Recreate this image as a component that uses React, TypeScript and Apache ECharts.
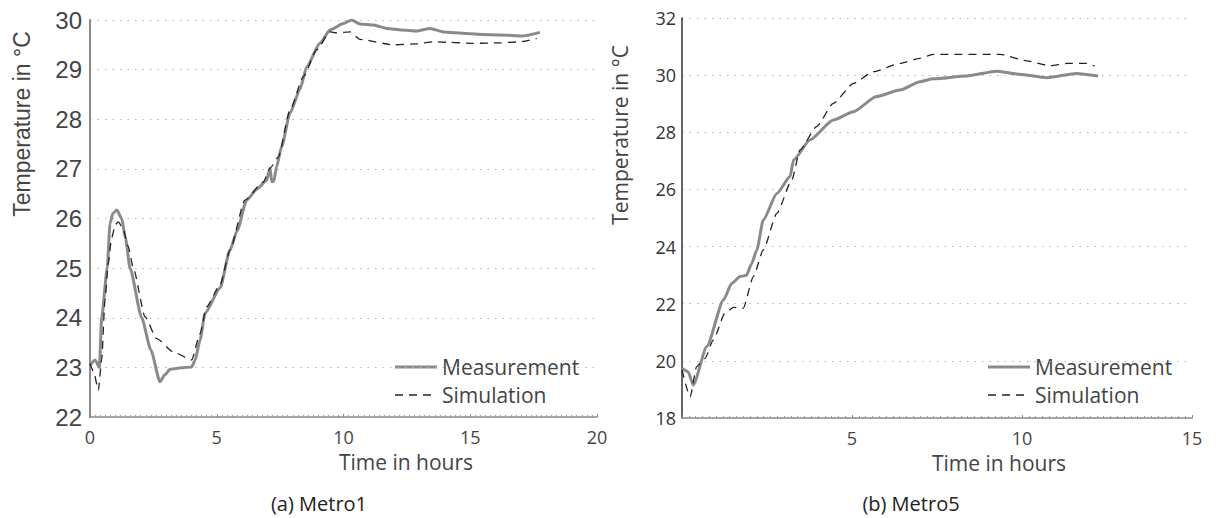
import React, { useEffect, useRef } from "react";
import * as echarts from "echarts";

// ---- Metro1 (left) ----
const m1MeasTime = [0, 0.2, 0.37, 0.46, 0.68, 0.79, 0.9, 1.06, 1.25, 1.4, 1.58, 2.04, 2.4, 2.76, 2.95, 3.16, 3.6, 4.01, 4.15, 4.34, 4.54, 5.13, 5.52, 5.8, 6.18, 6.6, 6.97, 7.1, 7.17, 7.25, 7.36, 7.56, 7.89, 8.28, 8.55, 9.07, 9.47, 9.99, 10.32, 10.65, 11.18, 11.7, 12.3, 12.88, 13.41, 13.94, 14.86, 15.5, 16.17, 17.09, 17.75];
const m1MeasTemp = [23.04, 23.15, 23.0, 24.0, 25.0, 25.9, 26.1, 26.17, 26.0, 25.6, 25.0, 24.0, 23.35, 22.71, 22.85, 22.96, 22.99, 23.01, 23.15, 23.55, 24.09, 24.6, 25.36, 25.75, 26.37, 26.6, 26.77, 27.02, 26.74, 26.75, 27.04, 27.45, 28.12, 28.6, 29.06, 29.53, 29.8, 29.93, 30.0, 29.92, 29.9, 29.83, 29.8, 29.78, 29.83, 29.76, 29.73, 29.71, 29.7, 29.68, 29.75];
const m1SimTime = [0, 0.15, 0.33, 0.46, 0.59, 0.72, 0.85, 1.0, 1.12, 1.3, 1.5, 1.71, 2.17, 2.63, 3.29, 4.01, 4.34, 4.6, 5.13, 5.52, 6.11, 6.84, 7.1, 7.43, 7.89, 8.42, 8.94, 9.47, 9.73, 10.26, 10.65, 11.96, 12.88, 13.54, 14.2, 15.12, 16.17, 16.96, 17.62];
const m1SimTemp = [23.08, 22.9, 22.54, 23.15, 24.35, 25.1, 25.6, 25.88, 25.93, 25.8, 25.45, 25.0, 24.02, 23.58, 23.31, 23.15, 23.68, 24.22, 24.66, 25.36, 26.37, 26.74, 27.01, 27.24, 28.19, 28.86, 29.4, 29.76, 29.74, 29.76, 29.61, 29.5, 29.52, 29.56, 29.55, 29.53, 29.54, 29.56, 29.63];

// ---- Metro5 (right) ----
const m5MeasTime = [0, 0.18, 0.33, 0.73, 1.22, 1.46, 1.71, 1.9, 2.05, 2.2, 2.39, 2.79, 3.18, 3.28, 3.76, 4.45, 5.04, 5.72, 6.41, 7.0, 7.39, 8.37, 9.26, 9.84, 10.73, 11.61, 12.24];
const m5MeasTemp = [19.74, 19.62, 19.15, 20.5, 22.13, 22.71, 22.95, 23.0, 23.41, 23.88, 24.93, 25.86, 26.45, 27.03, 27.73, 28.43, 28.72, 29.25, 29.48, 29.77, 29.87, 29.97, 30.14, 30.04, 29.91, 30.06, 29.97];
const m5SimTime = [0, 0.24, 0.43, 0.68, 0.92, 1.26, 1.51, 1.8, 2.1, 2.39, 2.79, 3.23, 3.47, 3.96, 4.45, 5.04, 5.63, 6.41, 7.0, 7.39, 9.35, 10.14, 10.82, 11.32, 11.9, 12.14];
const m5SimTemp = [19.68, 18.74, 19.8, 20.09, 20.73, 21.66, 21.87, 21.84, 22.95, 23.88, 25.16, 26.33, 27.38, 28.2, 29.01, 29.71, 30.12, 30.41, 30.59, 30.73, 30.73, 30.5, 30.33, 30.41, 30.41, 30.32];

const seriesNames = ["Measurement", "Simulation"];
const yAxisName = "Temperature in °C";
const xAxisName = "Time in hours";
const captions = ["(a) Metro1", "(b) Metro5"];

const pairs = (t: number[], v: number[]) => t.map((x, i) => [x, v[i]]);

const SANS = "'Open Sans', 'Noto Sans', sans-serif";
const ARIAL = "'Liberation Sans', Arial, sans-serif";

function xAxisCfg(gridIndex: number, max: number, hideMin: boolean) {
  return {
    type: "value",
    gridIndex,
    min: 0,
    max,
    interval: 5,
    axisLine: { show: true, lineStyle: { color: "#8a8a8a", width: 1.5 } },
    axisTick: { show: true, inside: true, length: 3, lineStyle: { color: "#8a8a8a" } },
    minorTick: { show: true, splitNumber: 25, length: 2, lineStyle: { color: "#9a9a9a" } },
    splitLine: { show: false },
    axisLabel: {
      margin: 12,
      fontFamily: SANS,
      fontSize: 18,
      lineHeight: 16,
      color: "#444",
      formatter: (v: number) => (hideMin && v === 0 ? "" : String(v)),
    },
  };
}

function legendGraphics(x0: number, y0: number) {
  return [
    { type: "line", shape: { x1: x0, y1: y0, x2: x0 + 42, y2: y0 }, style: { stroke: "#8a8a8a", lineWidth: 3 } },
    { type: "text", x: x0 + 47, y: y0, style: { text: seriesNames[0], font: `21px ${SANS}`, fill: "#444", verticalAlign: "middle", align: "left" } },
    { type: "line", shape: { x1: x0, y1: y0 + 28, x2: x0 + 42, y2: y0 + 28 }, style: { stroke: "#222", lineWidth: 1.3, lineDash: [8, 6] } },
    { type: "text", x: x0 + 47, y: y0 + 28, style: { text: seriesNames[1], font: `21px ${SANS}`, fill: "#444", verticalAlign: "middle", align: "left" } },
  ];
}

export default function App() {
  const ref = useRef<HTMLDivElement>(null);
  useEffect(() => {
    if (!ref.current) return;
    const chart = echarts.init(ref.current, undefined, { renderer: "svg" });
    const gridDots = { show: true, lineStyle: { color: "#b5b5b5", width: 1, type: [1.5, 6] } };
    chart.setOption({
      animation: false,
      backgroundColor: "#fff",
      grid: [
        { left: 90, top: 20, width: 507, height: 397 },
        { left: 682, top: 18, width: 510, height: 400 },
      ],
      xAxis: [xAxisCfg(0, 20, false), xAxisCfg(1, 15, true)],
      yAxis: [
        {
          type: "value",
          gridIndex: 0,
          min: 22,
          max: 30,
          interval: 1,
          axisLine: { show: true, lineStyle: { color: "#8a8a8a", width: 2 } },
          axisTick: { show: false },
          splitLine: gridDots,
          axisLabel: { margin: 8, fontFamily: ARIAL, fontSize: 24, color: "#444" },
        },
        {
          type: "value",
          gridIndex: 1,
          min: 18,
          max: 32,
          interval: 2,
          axisLine: { show: true, lineStyle: { color: "#333", width: 1.5 } },
          axisTick: { show: false },
          splitLine: gridDots,
          axisLabel: { margin: 6, fontFamily: SANS, fontSize: 18, color: "#333" },
        },
      ],
      series: [
        {
          name: seriesNames[0], type: "line", xAxisIndex: 0, yAxisIndex: 0, showSymbol: false,
          smooth: 0.2, smoothMonotone: "x",
          data: pairs(m1MeasTime, m1MeasTemp), lineStyle: { color: "#8a8a8a", width: 3 }, z: 3,
        },
        {
          name: seriesNames[1], type: "line", xAxisIndex: 0, yAxisIndex: 0, showSymbol: false,
          smooth: 0.2, smoothMonotone: "x",
          data: pairs(m1SimTime, m1SimTemp), lineStyle: { color: "#222", width: 1.3, type: [8, 6] }, z: 4,
        },
        {
          name: seriesNames[0], type: "line", xAxisIndex: 1, yAxisIndex: 1, showSymbol: false,
          smooth: 0.2, smoothMonotone: "x",
          data: pairs(m5MeasTime, m5MeasTemp), lineStyle: { color: "#8a8a8a", width: 3 }, z: 3,
        },
        {
          name: seriesNames[1], type: "line", xAxisIndex: 1, yAxisIndex: 1, showSymbol: false,
          smooth: 0.2, smoothMonotone: "x",
          data: pairs(m5SimTime, m5SimTemp), lineStyle: { color: "#222", width: 1.3, type: [8, 6] }, z: 4,
        },
      ],
      graphic: [
        { type: "text", x: 22, y: 124, rotation: Math.PI / 2, style: { text: yAxisName, font: `23px ${ARIAL}`, fill: "#444", align: "center", verticalAlign: "middle" } },
        { type: "text", x: 620, y: 135, rotation: Math.PI / 2, style: { text: yAxisName, font: `21px ${SANS}`, fill: "#444", align: "center", verticalAlign: "middle" } },
        { type: "text", x: 406, y: 462, style: { text: xAxisName, font: `21px ${SANS}`, fill: "#444", align: "center", verticalAlign: "middle" } },
        { type: "text", x: 999, y: 463, style: { text: xAxisName, font: `21px ${SANS}`, fill: "#444", align: "center", verticalAlign: "middle" } },
        { type: "text", x: 319, y: 503, style: { text: captions[0], font: `20px ${SANS}`, fill: "#222", align: "center", verticalAlign: "middle" } },
        { type: "text", x: 911, y: 503, style: { text: captions[1], font: `20px ${SANS}`, fill: "#222", align: "center", verticalAlign: "middle" } },
        ...legendGraphics(395, 367),
        ...legendGraphics(988, 367),
      ],
    });
    return () => chart.dispose();
  }, []);
  return <div ref={ref} style={{ position: "fixed", left: 0, top: 0, width: 1220, height: 518 }} />;
}
